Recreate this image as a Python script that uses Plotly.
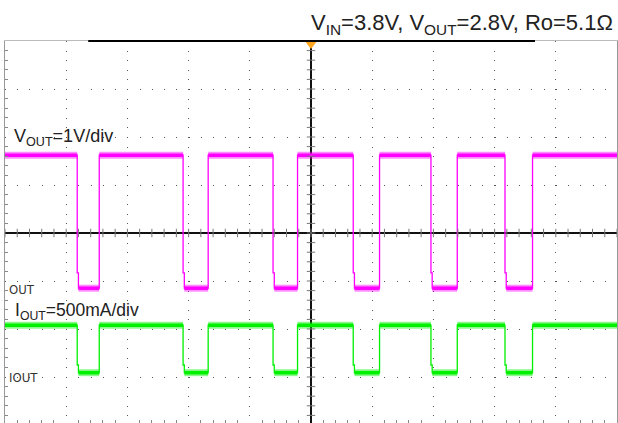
import plotly.graph_objects as go
import numpy as np

# ---- data (scope divisions: x = time div, y = vertical div) ----
t_fall = [-3.82, -2.09, -0.62, 0.69, 1.96, 3.17]
t_rise = [-3.46, -1.68, -0.22, 1.12, 2.39, 3.62]
step_dt = 0.02

vout_high = 1.62
vout_low = -1.15
vout_step = -0.83

iout_high = -1.92
iout_low = -2.91
iout_step = -2.75

x_min, x_max = -5.0, 5.0
y_top, y_bot = 4.0, -3.958

title_text = "V<sub>IN</sub>=3.8V, V<sub>OUT</sub>=2.8V, Ro=5.1Ω"
vout_label = "V<sub>OUT</sub>=1V/div"
iout_label = "I<sub>OUT</sub>=500mA/div"
ch1_tag = "OUT"
ch2_tag = "IOUT"

PINK = "#FF00FF"
GREEN = "#00F000"


def waveform(high, low, step):
    xs, ys = [x_min], [high]
    for tf, tr in zip(t_fall, t_rise):
        xs += [tf, tf, tf + step_dt, tf + step_dt, tr, tr]
        ys += [high, step, step, low, low, high]
    xs.append(x_max)
    ys.append(high)
    return xs, ys


def bands(high, low):
    xs, ys = [], []
    starts = [x_min] + t_rise
    ends = t_fall + [x_max]
    for a, b in zip(starts, ends):
        xs += [a, b, None]
        ys += [high, high, None]
    for tf, tr in zip(t_fall, t_rise):
        xs += [tf + step_dt, tr, None]
        ys += [low, low, None]
    return xs, ys


fig = go.Figure()

for high, low, step, col, band_col in [
    (vout_high, vout_low, vout_step, PINK, "rgba(255,0,255,0.45)"),
    (iout_high, iout_low, iout_step, GREEN, "rgba(0,240,0,0.45)"),
]:
    bx, by = bands(high, low)
    fig.add_trace(go.Scatter(x=bx, y=by, mode="lines",
                             line=dict(color=band_col, width=7),
                             hoverinfo="skip", showlegend=False))
    fig.add_trace(go.Scatter(x=bx, y=by, mode="lines",
                             line=dict(color=col, width=3.5),
                             hoverinfo="skip", showlegend=False))
    wx, wy = waveform(high, low, step)
    fig.add_trace(go.Scatter(x=wx, y=wy, mode="lines",
                             line=dict(color=col, width=1.3),
                             hoverinfo="skip", showlegend=False))

# center-axis tick marks
hx = np.round(np.arange(-25, 26) * 0.2, 3)
vy = np.round(np.arange(-20, 21) * 0.2, 3)
fig.add_trace(go.Scatter(x=hx, y=np.zeros_like(hx), mode="markers",
                         marker=dict(symbol="line-ns", size=6,
                                     line=dict(color="#777", width=1)),
                         hoverinfo="skip", showlegend=False))
fig.add_trace(go.Scatter(x=np.zeros_like(vy), y=vy, mode="markers",
                         marker=dict(symbol="line-ew", size=6,
                                     line=dict(color="#777", width=1)),
                         hoverinfo="skip", showlegend=False))

# trigger marker
fig.add_trace(go.Scatter(x=[0], y=[3.94], mode="markers",
                         marker=dict(symbol="triangle-down", size=10,
                                     color="#FFA51E"),
                         cliponaxis=False, hoverinfo="skip", showlegend=False))
# channel ground markers
fig.add_trace(go.Scatter(x=[-5.03, -5.03], y=[-1.2, -3.0], mode="markers",
                         marker=dict(symbol="triangle-right", size=4,
                                     color=[PINK, GREEN]),
                         cliponaxis=False, hoverinfo="skip", showlegend=False))

# memory window bar
fig.add_shape(type="line", xref="x", yref="paper", x0=-3.64, x1=3.66,
              y0=1, y1=1, line=dict(color="black", width=2))

fig.update_xaxes(range=[x_min, x_max], dtick=1, tick0=0,
                 showgrid=True, gridcolor="#555", griddash="1px,8.6px",
                 gridwidth=1,
                 zeroline=True, zerolinecolor="#111", zerolinewidth=1.5,
                 showticklabels=False, ticks="",
                 showline=True, linecolor="#bbb", mirror=True,
                 minor=dict(dtick=0.2, ticks="inside", ticklen=3,
                            tickcolor="#888", showgrid=False))
fig.update_yaxes(range=[y_bot, y_top], dtick=1, tick0=0,
                 showgrid=True, gridcolor="#555", griddash="1px,11.24px",
                 gridwidth=1,
                 zeroline=True, zerolinecolor="#111", zerolinewidth=1.5,
                 showticklabels=False, ticks="",
                 showline=True, linecolor="#999", mirror=True,
                 minor=dict(dtick=0.2, ticks="inside", ticklen=3,
                            tickcolor="#888", showgrid=False))

font_main = "Liberation Sans, Arial, sans-serif"
font_narrow = "DejaVu Sans Condensed, Liberation Sans Narrow, sans-serif"

fig.add_annotation(text=title_text, xref="paper", yref="paper",
                   x=0.9967, y=1.045, xanchor="right", yanchor="middle",
                   showarrow=False, font=dict(family=font_main, size=22,
                                              color="#222"))
fig.add_annotation(text=vout_label, xref="x", yref="y", x=-4.89, y=2.0,
                   xanchor="left", yanchor="middle", showarrow=False,
                   font=dict(family=font_main, size=18, color="#222"))
fig.add_annotation(text=iout_label, xref="x", yref="y", x=-4.87, y=-1.63,
                   xanchor="left", yanchor="middle", showarrow=False,
                   font=dict(family=font_main, size=17.5, color="#222"))
fig.add_annotation(text=ch1_tag, xref="x", yref="y", x=-4.97, y=-1.17,
                   xanchor="left", yanchor="middle", showarrow=False,
                   font=dict(family=font_narrow, size=13, color="#333"))
fig.add_annotation(text=ch2_tag, xref="x", yref="y", x=-4.97, y=-3.01,
                   xanchor="left", yanchor="middle", showarrow=False,
                   font=dict(family=font_narrow, size=13, color="#333"))

fig.update_layout(width=618, height=423,
                  margin=dict(l=5, r=1, t=41, b=0, pad=0),
                  paper_bgcolor="white", plot_bgcolor="white",
                  showlegend=False)

fig.write_html("out.html")
